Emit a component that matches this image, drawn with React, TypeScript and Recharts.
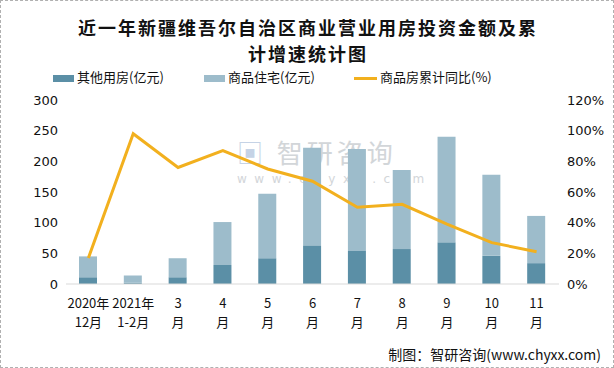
import { Bar, ComposedChart, Line, XAxis, YAxis } from "recharts";

const tickTop = ["2020年", "2021年", "3", "4", "5", "6", "7", "8", "9", "10", "11"];
const tickBottom = ["12月", "1-2月", "月", "月", "月", "月", "月", "月", "月", "月", "月"];
const otherUse = [11, 2, 11, 31, 42, 63, 54, 57, 68, 46, 34];
const housing = [34, 12, 31, 70, 105, 159, 166, 129, 172, 132, 77];
const growth = [17, 98, 76, 87, 75, 67, 50, 52, 39, 27, 21];

const data = tickTop.map((t, i) => ({
  name: t + tickBottom[i],
  other: otherUse[i],
  housing: housing[i],
  growth: growth[i],
}));

const DARK = "#5b8fa6";
const LIGHT = "#9dbccb";
const GOLD = "#f2b01e";
const CJK = "'Noto Sans CJK SC', 'DejaVu Sans', sans-serif";
const NUM = "'DejaVu Sans', 'Noto Sans CJK SC', sans-serif";

const XTick = (props: any) => {
  const { x, y, index } = props;
  return (
    <text x={x} y={y} textAnchor="middle" fill="#111" fontSize={13} fontFamily={CJK}>
      <tspan x={x} dy={16}>{tickTop[index]}</tspan>
      <tspan x={x} dy={19}>{tickBottom[index]}</tspan>
    </text>
  );
};

const Swatch = ({ color, line }: { color: string; line?: boolean }) => (
  <span
    style={{
      display: "inline-block",
      width: line ? 23 : 21,
      height: line ? 3 : 7,
      background: color,
      marginRight: 3,
      verticalAlign: "middle",
    }}
  />
);

const titleStyle: React.CSSProperties = {
  position: "absolute",
  left: 0,
  width: 614,
  textAlign: "center",
  fontSize: 18,
  fontWeight: "bold",
  letterSpacing: 2,
  lineHeight: "26px",
  height: 26,
  color: "#111",
};

const App = () => {
  return (
    <div
      style={{
        position: "absolute",
        left: 0,
        top: 0,
        width: 614,
        height: 368,
        background: "#fff",
        boxSizing: "border-box",
        border: "1px dashed #b0b0b0",
        fontFamily: CJK,
      }}
    >
      <div style={{ ...titleStyle, top: 13 }}>近一年新疆维吾尔自治区商业营业用房投资金额及累</div>
      <div style={{ ...titleStyle, top: 39 }}>计增速统计图</div>
      <div
        style={{
          position: "absolute",
          top: 66,
          left: 52,
          fontSize: 13,
          color: "#111",
          whiteSpace: "nowrap",
          display: "flex",
          alignItems: "center",
        }}
      >
        <span style={{ width: 151 }}>
          <Swatch color={DARK} />其他用房(亿元)
        </span>
        <span style={{ width: 150 }}>
          <Swatch color={LIGHT} />商品住宅(亿元)
        </span>
        <span>
          <Swatch color={GOLD} line />商品房累计同比(%)
        </span>
      </div>
      <div
        style={{
          position: "absolute",
          left: 236,
          top: 136,
          height: 30,
          lineHeight: "30px",
          fontSize: 26,
          letterSpacing: 4,
          color: "#c8ccd0",
          opacity: 0.8,
          whiteSpace: "nowrap",
        }}
      >
        <span style={{ color: "#b7c9e0" }}>▣</span> 智研咨询
      </div>
      <div
        style={{
          position: "absolute",
          left: 236,
          top: 170,
          height: 16,
          lineHeight: "16px",
          fontSize: 12,
          letterSpacing: 7.5,
          fontFamily: NUM,
          color: "#c8ccd0",
          opacity: 0.8,
          whiteSpace: "nowrap",
        }}
      >
        www.chyxx.com
      </div>
      <div style={{ position: "absolute", left: 0, top: 0 }}>
        <ComposedChart
          width={614}
          height={368}
          data={data}
          margin={{ top: 99, right: 6, bottom: 40, left: 15 }}
        >
          <XAxis
            dataKey="name"
            interval={0}
            tickLine={false}
            axisLine={{ stroke: "#d9d9d9" }}
            tick={<XTick />}
            height={45}
          />
          <YAxis
            yAxisId="left"
            domain={[0, 300]}
            ticks={[0, 50, 100, 150, 200, 250, 300]}
            axisLine={false}
            tickLine={false}
            width={50}
            tick={{ fill: "#111", fontSize: 13, fontFamily: NUM }}
          />
          <YAxis
            yAxisId="right"
            orientation="right"
            domain={[0, 120]}
            ticks={[0, 20, 40, 60, 80, 100, 120]}
            tickFormatter={(v) => `${v}%`}
            axisLine={false}
            tickLine={false}
            width={50}
            tick={{ fill: "#111", fontSize: 13, fontFamily: NUM, textAnchor: "start" }}
          />
          <Bar yAxisId="left" dataKey="other" stackId="a" fill={DARK} barSize={18} isAnimationActive={false} />
          <Bar yAxisId="left" dataKey="housing" stackId="a" fill={LIGHT} barSize={18} isAnimationActive={false} />
          <Line
            yAxisId="right"
            dataKey="growth"
            type="linear"
            stroke={GOLD}
            strokeWidth={3}
            dot={false}
            isAnimationActive={false}
          />
        </ComposedChart>
      </div>
      <div
        style={{
          position: "absolute",
          right: 12,
          top: 343,
          fontSize: 14,
          color: "#111",
        }}
      >
        制图：智研咨询(www.chyxx.com)
      </div>
    </div>
  );
};

export default App;
